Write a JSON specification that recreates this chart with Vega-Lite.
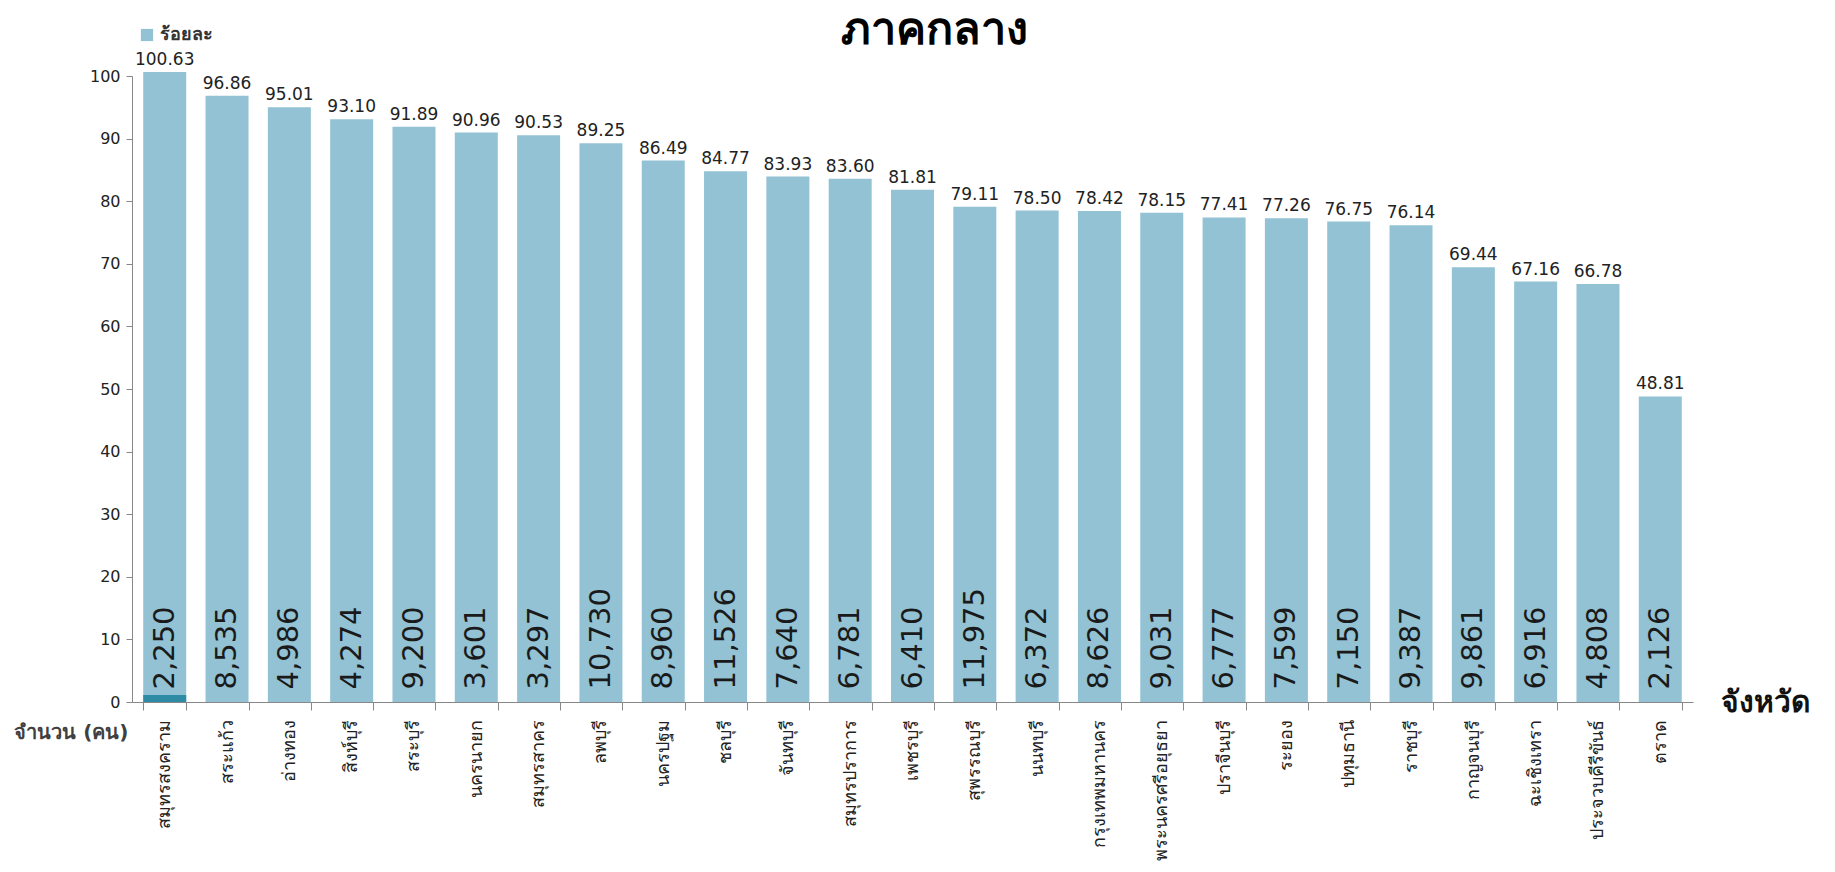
{
  "$schema": "https://vega.github.io/schema/vega-lite/v6.json",
  "width": 1561,
  "height": 626,
  "autosize": "none",
  "padding": {"left": 132, "top": 76, "right": 142, "bottom": 170},
  "background": "white",
  "title": {"text": "ภาคกลาง", "fontSize": 45, "font": "DejaVu Sans", "fontWeight": "bold", "color": "black", "anchor": "middle", "dx": 22, "offset": -27, "frame": "group"},
  "config": {"view": {"stroke": null}, "font": "DejaVu Sans"},
  "data": {"values": [
    {"province": "สมุทรสงคราม", "pct": 100.63, "count": 2250, "extra": 1.1},
    {"province": "สระแก้ว", "pct": 96.86, "count": 8535},
    {"province": "อ่างทอง", "pct": 95.01, "count": 4986},
    {"province": "สิงห์บุรี", "pct": 93.10, "count": 4274},
    {"province": "สระบุรี", "pct": 91.89, "count": 9200},
    {"province": "นครนายก", "pct": 90.96, "count": 3601},
    {"province": "สมุทรสาคร", "pct": 90.53, "count": 3297},
    {"province": "ลพบุรี", "pct": 89.25, "count": 10730},
    {"province": "นครปฐม", "pct": 86.49, "count": 8960},
    {"province": "ชลบุรี", "pct": 84.77, "count": 11526},
    {"province": "จันทบุรี", "pct": 83.93, "count": 7640},
    {"province": "สมุทรปราการ", "pct": 83.60, "count": 6781},
    {"province": "เพชรบุรี", "pct": 81.81, "count": 6410},
    {"province": "สุพรรณบุรี", "pct": 79.11, "count": 11975},
    {"province": "นนทบุรี", "pct": 78.50, "count": 6372},
    {"province": "กรุงเทพมหานคร", "pct": 78.42, "count": 8626},
    {"province": "พระนครศรีอยุธยา", "pct": 78.15, "count": 9031},
    {"province": "ปราจีนบุรี", "pct": 77.41, "count": 6777},
    {"province": "ระยอง", "pct": 77.26, "count": 7599},
    {"province": "ปทุมธานี", "pct": 76.75, "count": 7150},
    {"province": "ราชบุรี", "pct": 76.14, "count": 9387},
    {"province": "กาญจนบุรี", "pct": 69.44, "count": 9861},
    {"province": "ฉะเชิงเทรา", "pct": 67.16, "count": 6916},
    {"province": "ประจวบคีรีขันธ์", "pct": 66.78, "count": 4808},
    {"province": "ตราด", "pct": 48.81, "count": 2126}
  ]},
  "encoding": {
    "x": {
      "field": "province", "type": "nominal", "sort": null,
      "scale": {"paddingInner": 0.31, "paddingOuter": 0.18},
      "axis": {
        "labelAngle": 270, "labelFontSize": 18, "labelColor": "#222222", "labelPadding": 9,
        "tickSize": 8, "tickBand": "extent", "tickColor": "#888888", "domainColor": "#888888",
        "title": "จังหวัด", "titleFontSize": 30, "titleFontWeight": "bold", "titleColor": "#111111",
        "titleX": 1588, "titleY": 0, "titleAlign": "left", "titleBaseline": "middle"
      }
    }
  },
  "layer": [
    {
      "mark": {"type": "bar"},
      "encoding": {
        "y": {
          "field": "pct", "type": "quantitative",
          "scale": {"domain": [0, 100]},
          "axis": {
            "values": [0, 10, 20, 30, 40, 50, 60, 70, 80, 90, 100], "grid": false,
            "labelFontSize": 16, "labelColor": "#222222", "labelPadding": 6, "tickSize": 6,
            "tickColor": "#888888", "domainColor": "#888888",
            "title": "จำนวน (คน)", "titleAngle": 0, "titleX": -4, "titleY": 656,
            "titleAlign": "right", "titleBaseline": "middle", "titleFontSize": 20,
            "titleFontWeight": "bold", "titleColor": "#404040"
          }
        },
        "color": {
          "datum": "ร้อยละ", "type": "nominal",
          "scale": {"range": ["#92C2D4"]},
          "legend": {
            "title": null, "orient": "none", "legendX": 6, "legendY": -50,
            "symbolType": "square", "symbolSize": 150, "symbolStrokeWidth": 0,
            "labelFontSize": 18, "labelFontWeight": "bold", "labelColor": "#333333"
          }
        }
      }
    },
    {
      "mark": {"type": "bar", "color": "#2E8BA6"},
      "encoding": {"y": {"field": "extra", "type": "quantitative"}}
    },
    {
      "mark": {"type": "text", "baseline": "bottom", "dy": -3, "fontSize": 17, "color": "#222222"},
      "encoding": {
        "y": {"field": "pct", "type": "quantitative"},
        "text": {"field": "pct", "type": "quantitative", "format": ".2f"}
      }
    },
    {
      "mark": {"type": "text", "angle": 270, "align": "left", "baseline": "middle", "fontSize": 29, "color": "#1a1a1a"},
      "encoding": {
        "y": {"datum": 2},
        "text": {"field": "count", "type": "quantitative", "format": ","}
      }
    }
  ]
}
